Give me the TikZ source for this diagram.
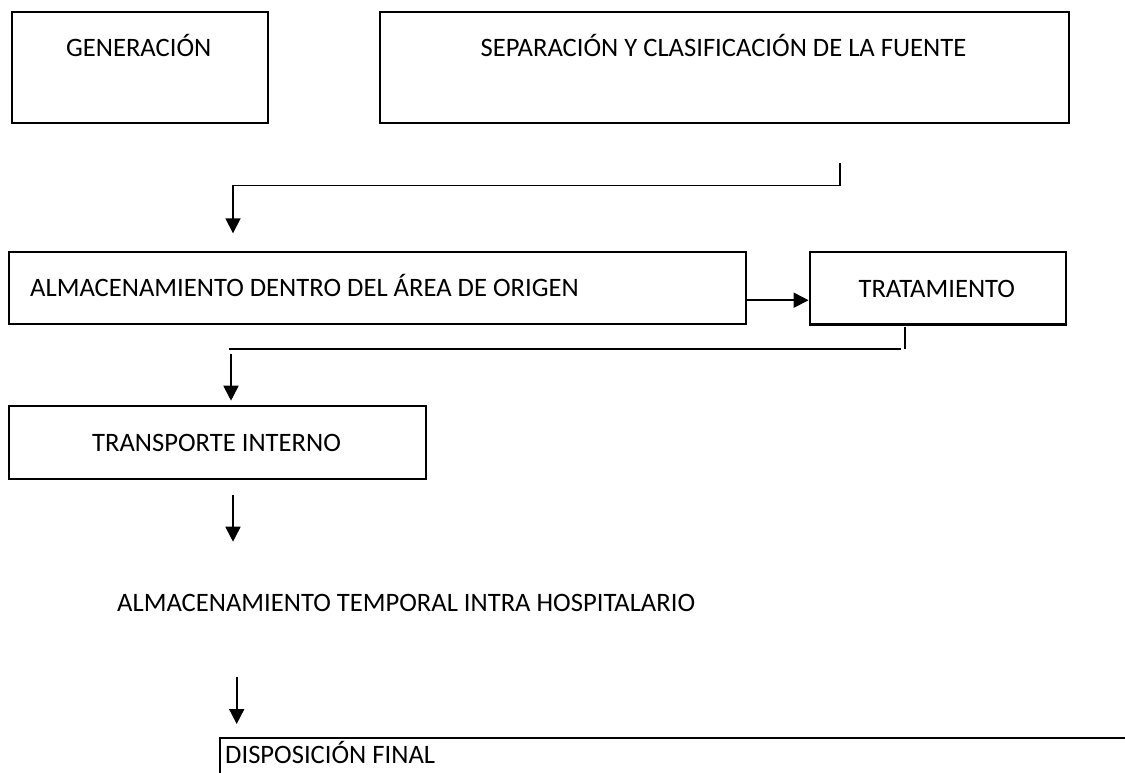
\documentclass[tikz,border=0pt]{standalone}
\usepackage{fontspec}
\setmainfont{Carlito}
\usetikzlibrary{arrows.meta}
\begin{document}
\begin{tikzpicture}[x=1pt,y=-1pt,
  box/.style={draw=black,line width=2.2pt,rectangle,inner sep=0pt,anchor=north west},
  txt/.style={inner sep=0pt,font=\fontsize{26.6}{30}\selectfont,anchor=base},
  txtl/.style={inner sep=0pt,font=\fontsize{26.6}{30}\selectfont,anchor=base west},
  conn/.style={draw=black,line width=1.8pt},
  arr/.style={draw=black,line width=1.8pt,-{Triangle[length=15pt,width=15pt]}}]
\useasboundingbox (0,0) rectangle (1125,772);
\fill[white] (0,0) rectangle (1125,772);
\clip (0,0) rectangle (1125,772);
% boxes
\node[box,minimum width=256pt,minimum height=111pt] (gen) at (10.7,10.7) {};
\node[box,minimum width=689pt,minimum height=111pt] (sep) at (379,10.7) {};
\node[box,minimum width=737pt,minimum height=72pt] (alm) at (8,250.7) {};
\node[box,minimum width=256.5pt,minimum height=72.6pt] (trat) at (808.6,250.7) {};
\node[box,minimum width=417pt,minimum height=72.7pt] (transp) at (8,405) {};
\node[box,minimum width=950pt,minimum height=80pt] (disp) at (219,736.7) {};
% texts
\node[txt] (gent) at (138.7,56) {GENERACIÓN};
\node[txt] (sept) at (723.5,56) {SEPARACIÓN Y CLASIFICACIÓN DE LA FUENTE};
\node[txtl] (almt) at (30,296) {ALMACENAMIENTO DENTRO DEL ÁREA DE ORIGEN};
\node[txt] (tratt) at (936.8,297) {TRATAMIENTO};
\node[txt] (transpt) at (216.5,451.7) {TRANSPORTE INTERNO};
\node[txtl] (tempt) at (117,611.7) {ALMACENAMIENTO TEMPORAL INTRA HOSPITALARIO};
\node[txtl] (dispt) at (225,763) {DISPOSICIÓN FINAL};
% connector 1
\coordinate (c1s) at (840,162.7);
\coordinate (c1e) at (233,233.3);
\draw[arr] (c1s) -- (840,185.5) -| (c1e);
% connector 2
\draw[arr] ([yshift=-12.4pt]alm.east) -- ([yshift=-12.4pt]alm.east -| trat.west);
% connector 3
\coordinate (c3a) at (905,326.7);
\coordinate (c3b) at (905,349);
\coordinate (c3c) at (900.5,348.7);
\coordinate (c3d) at (228.6,348.7);
\coordinate (c3e) at (231,354);
\coordinate (c3f) at (231,400.7);
\draw[conn] (c3a) -- (c3b);
\draw[conn] (c3c) -- (c3d);
\draw[arr] (c3e) -- (c3f);
% connector 4
\coordinate (c4a) at (233,495);
\coordinate (c4b) at (233,541.7);
\draw[arr] (c4a) -- (c4b);
% connector 5
\coordinate (c5a) at (236.7,676.7);
\coordinate (c5b) at (236.7,724);
\draw[arr] (c5a) -- (c5b);
\end{tikzpicture}
\end{document}
